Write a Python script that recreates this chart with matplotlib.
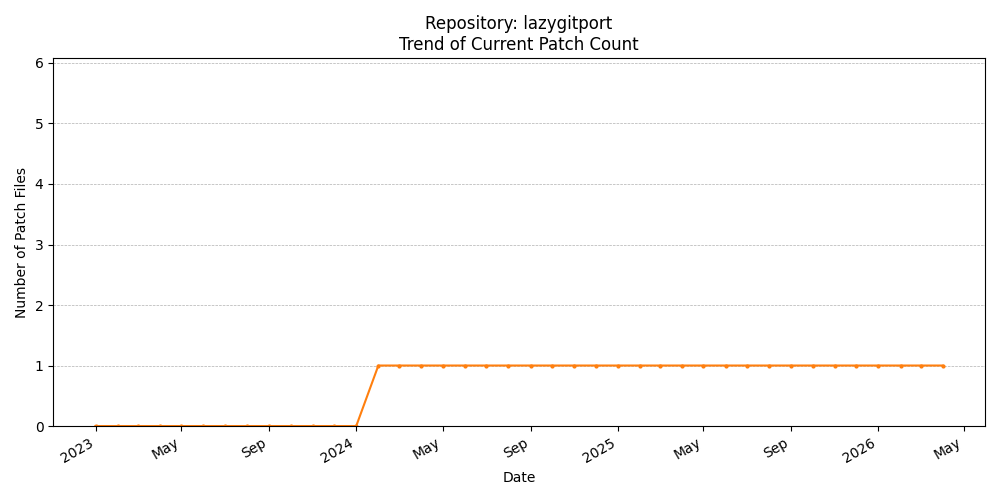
import matplotlib
matplotlib.use("Agg")
import matplotlib.pyplot as plt
import matplotlib.dates as mdates
import pandas as pd

dates = pd.date_range("2023-01-01", "2026-04-01", freq="MS")
zeros = [0] * 13
ones = [1] * 27
counts = zeros + ones

fig, ax = plt.subplots(figsize=(10, 5), dpi=100)
ax.plot(dates, counts, color="tab:orange", marker="o", markersize=2)
ax.set_title("Repository: lazygitport\nTrend of Current Patch Count")
ax.set_xlabel("Date")
ax.set_ylabel("Number of Patch Files")
ax.set_ylim(0, 6.08)
ax.grid(axis="y", linestyle="--", linewidth=0.5)
ax.xaxis.set_major_locator(mdates.AutoDateLocator())
ax.xaxis.set_major_formatter(mdates.ConciseDateFormatter(ax.xaxis.get_major_locator()))
fig.autofmt_xdate()
fig.tight_layout()
fig.savefig("out.png")
